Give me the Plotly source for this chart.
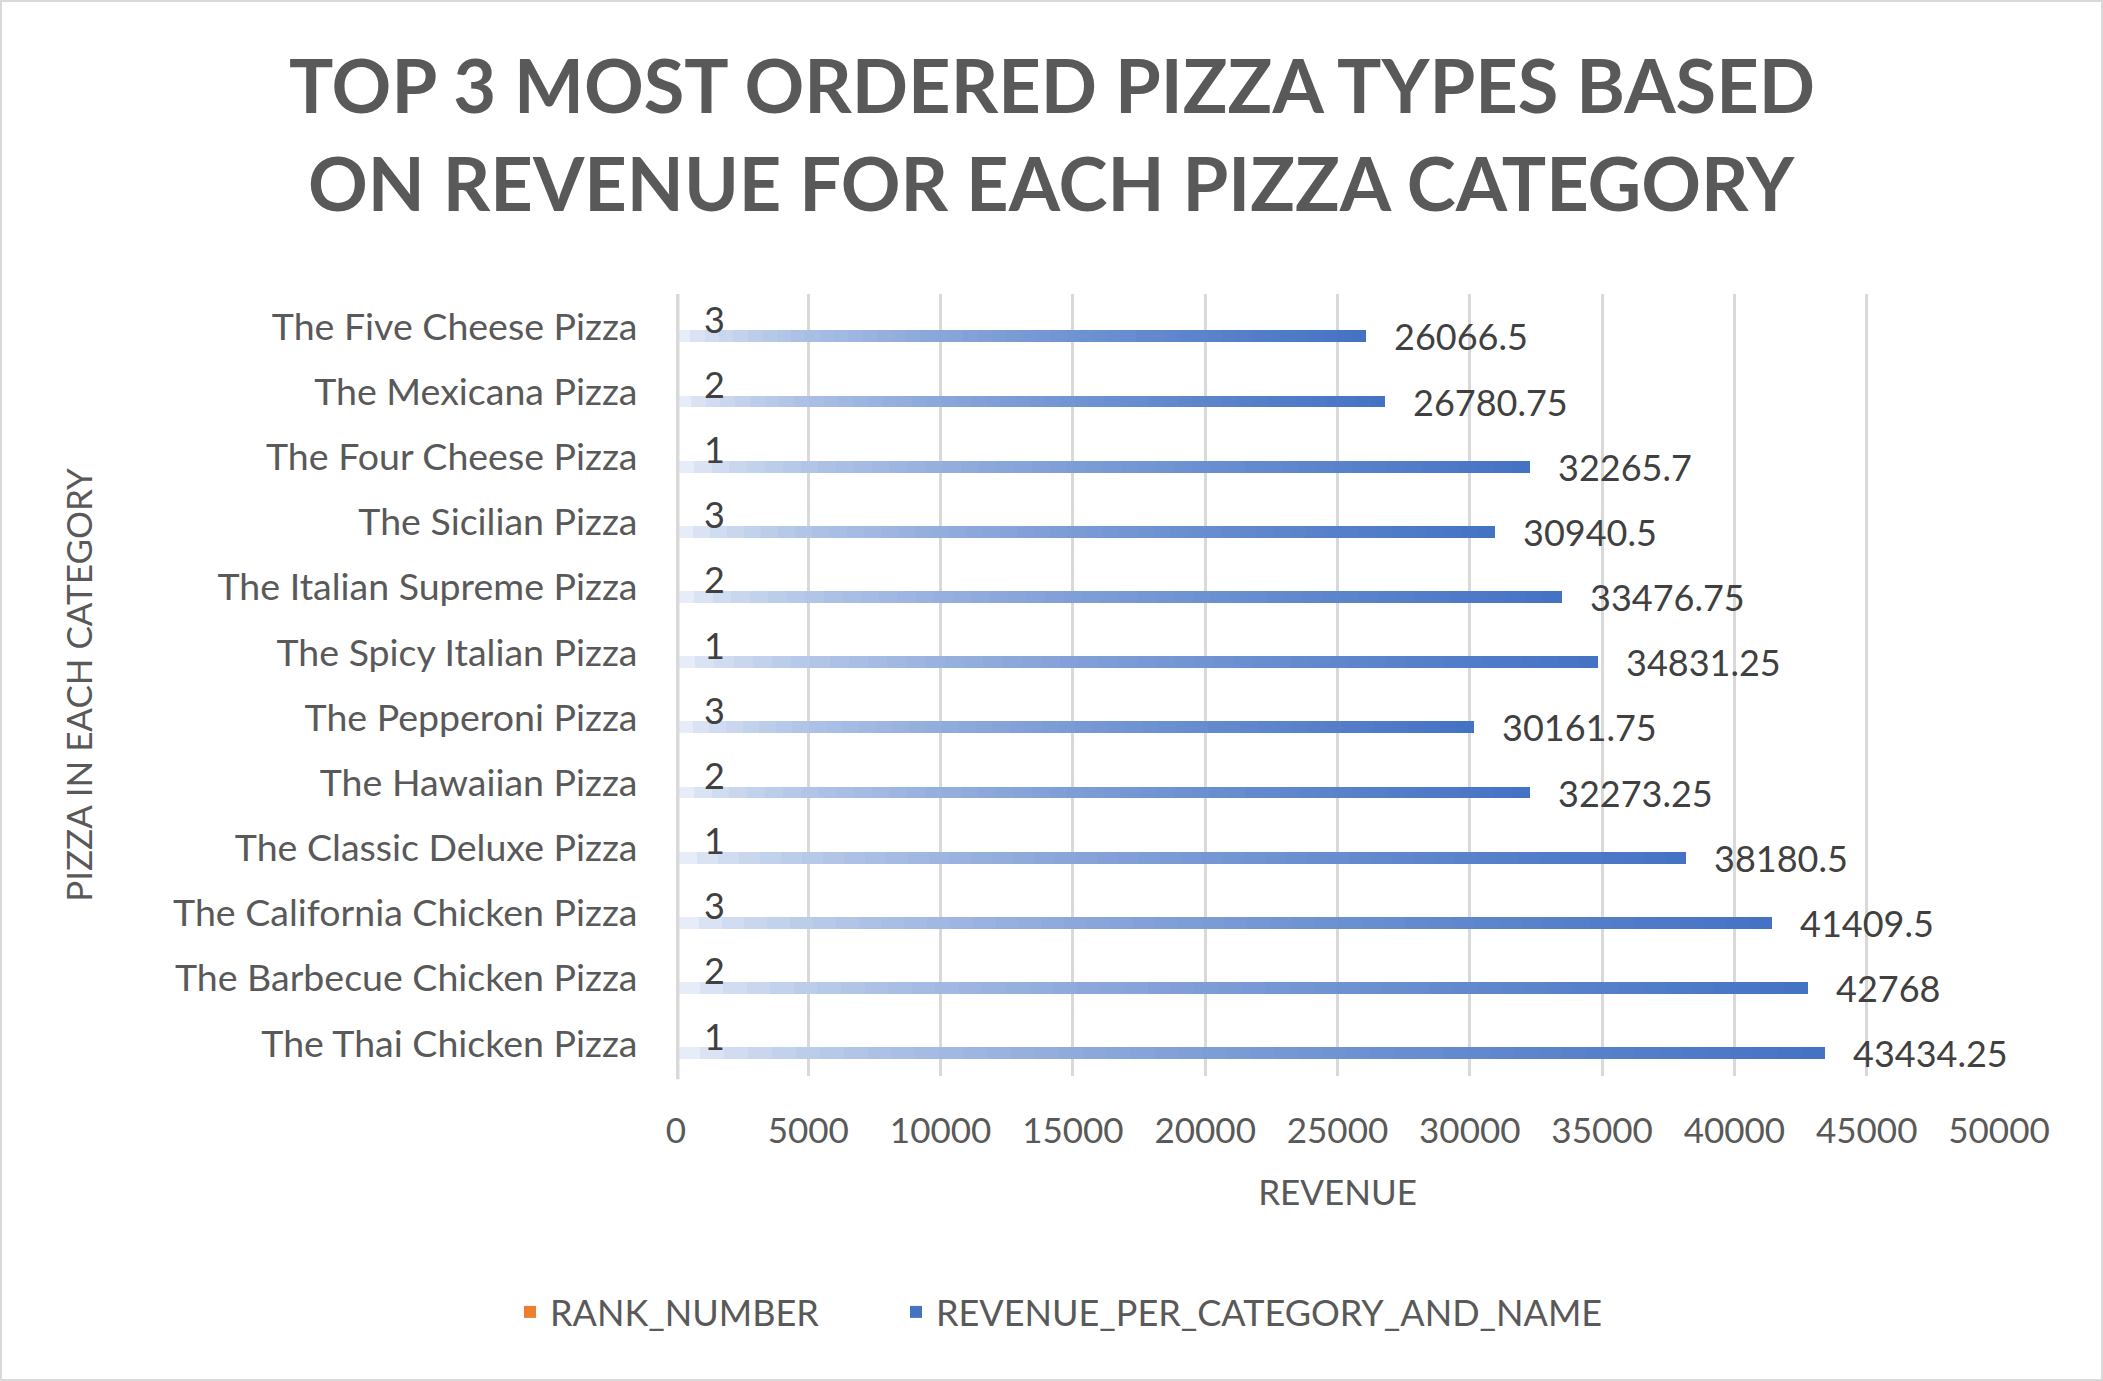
import plotly.graph_objects as go

# ---------------- data ----------------
pizzas = [
    "The Thai Chicken Pizza",
    "The Barbecue Chicken Pizza",
    "The California Chicken Pizza",
    "The Classic Deluxe Pizza",
    "The Hawaiian Pizza",
    "The Pepperoni Pizza",
    "The Spicy Italian Pizza",
    "The Italian Supreme Pizza",
    "The Sicilian Pizza",
    "The Four Cheese Pizza",
    "The Mexicana Pizza",
    "The Five Cheese Pizza",
]
rank_number = [1, 2, 3, 1, 2, 3, 1, 2, 3, 1, 2, 3]
revenue = [43434.25, 42768, 41409.5, 38180.5, 32273.25, 30161.75,
           34831.25, 33476.75, 30940.5, 32265.7, 26780.75, 26066.5]
x_ticks = [0, 5000, 10000, 15000, 20000, 25000, 30000, 35000, 40000, 45000, 50000]
title_lines = ["TOP 3 MOST ORDERED PIZZA TYPES BASED", "ON REVENUE FOR EACH PIZZA CATEGORY"]

# ---------------- layout constants ----------------
W, H = 2103, 1381
ML, MR, MT, MB = 676, 104, 294, 305
PW, PH = W - ML - MR, H - MT - MB

FONT = "Lato, 'Open Sans', sans-serif"
GREY_TXT = "#595959"
LABEL_TXT = "#404040"
GRID = "#D9D9D9"
BLUE = (68, 114, 196)
ORANGE = "#ED7D31"


def fmt(v):
    return ("%.2f" % v).rstrip("0").rstrip(".")


def py(pixel_y):
    """page pixel row -> paper y"""
    return (MT + PH - pixel_y) / PH


def px(pixel_x):
    """page pixel column -> paper x"""
    return (pixel_x - ML) / PW


idx = list(range(len(pizzas)))
blue_pos = [i - 0.15 for i in idx]
rank_pos = [i + 0.12 for i in idx]
BAR_W = 0.18

fig = go.Figure()

# orange rank bars (tiny relative to the revenue axis)
fig.add_trace(go.Bar(
    x=rank_number, y=rank_pos, orientation="h", width=BAR_W,
    marker=dict(color=ORANGE, line=dict(width=0)),
    name="RANK_NUMBER", legend="legend", showlegend=True,
    hoverinfo="x",
))

# blue revenue bars with a horizontal gradient: stacked segments
N_SEG = 48
start = (250, 251, 254)
for k in range(N_SEG):
    t = (k + 0.5) / N_SEG
    m = t ** 0.5
    c = tuple(round(start[j] + (BLUE[j] - start[j]) * m) for j in range(3))
    fig.add_trace(go.Bar(
        x=[v / N_SEG for v in revenue], y=blue_pos, orientation="h", width=BAR_W,
        marker=dict(color="rgb(%d,%d,%d)" % c, line=dict(width=0)),
        name="REVENUE_PER_CATEGORY_AND_NAME", legend="legend2",
        showlegend=(k == N_SEG - 1),
        hoverinfo="skip",
    ))

annotations = []
for v, p in zip(revenue, blue_pos):
    annotations.append(dict(
        x=v, y=p, xref="x", yref="y", text=fmt(v), showarrow=False,
        xanchor="left", yanchor="middle", xshift=26,
        font=dict(family=FONT, size=36, color=LABEL_TXT),
    ))
for r, p in zip(rank_number, rank_pos):
    annotations.append(dict(
        x=r, y=p, xref="x", yref="y", text=str(r), showarrow=False,
        xanchor="left", yanchor="middle", xshift=26,
        font=dict(family=FONT, size=36, color=LABEL_TXT),
    ))
for line, yc in zip(title_lines, [85, 182]):
    annotations.append(dict(
        x=px(W / 2), xref="paper", y=py(yc), yref="paper",
        text="<b>%s</b>" % line, showarrow=False,
        xanchor="center", yanchor="middle",
        font=dict(family=FONT, size=74, color=GREY_TXT),
    ))

legend_common = dict(
    orientation="h", yanchor="middle", y=py(1312), xanchor="left",
    font=dict(family=FONT, size=36, color=GREY_TXT),
    itemsizing="constant", bgcolor="rgba(0,0,0,0)",
)

fig.update_layout(
    width=W, height=H,
    margin=dict(l=ML, r=MR, t=MT, b=MB, autoexpand=False),
    paper_bgcolor="white", plot_bgcolor="white",
    barmode="stack", bargap=0,
    font=dict(family=FONT, color=GREY_TXT),
    xaxis=dict(
        range=[0, 50000], tickvals=x_ticks, ticktext=[str(t) for t in x_ticks],
        showgrid=True, gridcolor=GRID, gridwidth=3, zeroline=False,
        ticks="outside", ticklen=24, tickcolor="rgba(0,0,0,0)",
        tickfont=dict(family=FONT, size=35, color=GREY_TXT),
        title=dict(text="REVENUE", standoff=31,
                   font=dict(family=FONT, size=35, color=GREY_TXT)),
        showline=False, fixedrange=True,
    ),
    yaxis=dict(
        range=[-0.5, len(pizzas) - 0.5], tickvals=idx, ticktext=pizzas,
        showgrid=False, zeroline=False, showline=False,
        ticks="outside", ticklen=30, tickcolor="rgba(0,0,0,0)",
        tickfont=dict(family=FONT, size=37.5, color=GREY_TXT),
        title=dict(text="PIZZA IN EACH CATEGORY", standoff=69,
                   font=dict(family=FONT, size=35, color=GREY_TXT)),
        fixedrange=True,
    ),
    legend=dict(x=px(510), **legend_common),
    legend2=dict(x=px(896), **legend_common),
    annotations=annotations,
    shapes=[
        # category axis line at x = 0
        dict(type="line", xref="x", yref="paper", x0=0, x1=0, y0=-0.004, y1=1,
             line=dict(color=GRID, width=7), layer="above"),
        # chart border
        dict(type="rect", xref="paper", yref="paper",
             x0=px(1), x1=px(W - 1), y0=py(H - 1), y1=py(1),
             line=dict(color=GRID, width=2), fillcolor="rgba(0,0,0,0)", layer="below"),
    ],
)

fig.write_html("out.html")
